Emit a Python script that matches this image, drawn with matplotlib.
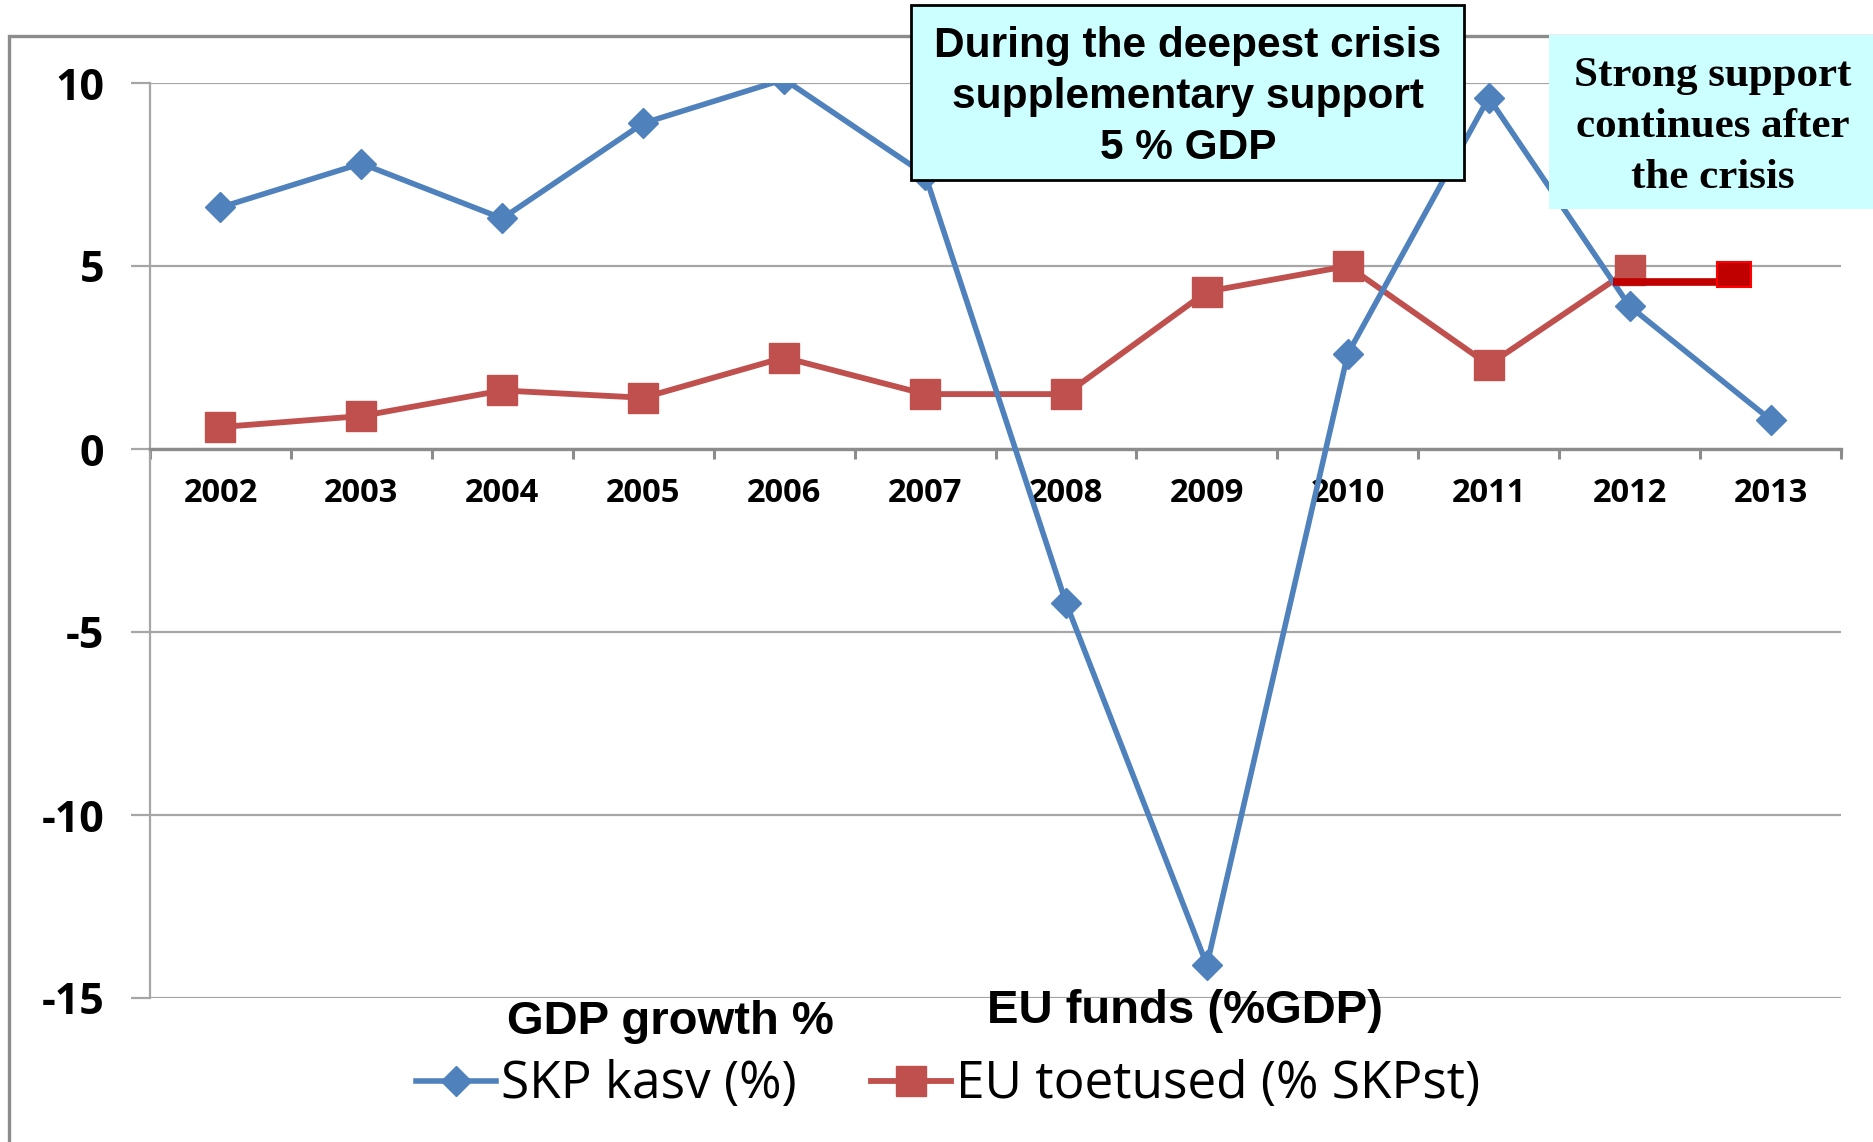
import matplotlib
matplotlib.use("Agg")
import matplotlib.pyplot as plt
from matplotlib.patches import Rectangle
from matplotlib.ticker import FixedLocator

years = list(range(2002, 2014))
gdp_growth = [6.6, 7.8, 6.3, 8.9, 10.1, 7.5, -4.2, -14.1, 2.6, 9.6, 3.9, 0.8]
eu_years = list(range(2002, 2013))
eu_funds = [0.6, 0.9, 1.6, 1.4, 2.5, 1.5, 1.5, 4.3, 5.0, 2.3, 4.9]
y_ticks = [-15, -10, -5, 0, 5, 10]

# support level continuing past 2012
after_x = [2011.88, 2012.62]
after_level = 4.55
after_box = (2012.62, 4.43, 0.24, 0.68)

BLUE = "#4F81BD"
RED = "#C0504D"
GRID = "#A6A6A6"
W, H = 1874, 1142

fig = plt.figure(figsize=(W / 100, H / 100), dpi=100)
ax = fig.add_axes([150 / W, 1 - 998 / H, (1841 - 150) / W, (998 - 83) / H])

red_line, = ax.plot(eu_years, eu_funds, color=RED, lw=4.2, marker="s", ms=21,
                    mec=RED, mew=1, zorder=4, label="EU toetused (% SKPst)")
blue_line, = ax.plot(years, gdp_growth, color=BLUE, lw=4.0, marker="D", ms=15,
                     mec=BLUE, mew=1, zorder=5, label="SKP kasv (%)")

ax.plot(after_x, [after_level] * 2, color="#C00000", lw=5.5,
        solid_capstyle="butt", zorder=6)
ax.add_patch(Rectangle(after_box[:2], after_box[2], after_box[3],
                       fc="#C00000", ec="#FF0000", lw=1.5, zorder=7))

ax.set_xlim(2001.5, 2013.5)
ax.set_ylim(-15, 10)

# axes styling
for s in ["top", "right"]:
    ax.spines[s].set_visible(False)
ax.spines["bottom"].set_position(("data", 0))
ax.spines["bottom"].set_color("#8C8C8C")
ax.spines["bottom"].set_linewidth(2.4)
ax.spines["left"].set_color(GRID)
ax.spines["left"].set_linewidth(1.6)

ax.set_yticks(y_ticks)
ax.set_yticklabels([str(v) for v in y_ticks], fontfamily="Open Sans",
                   fontweight="bold", fontsize=31)
ax.tick_params(axis="y", direction="out", length=14, width=1.6, color=GRID,
               pad=19)
ax.yaxis.grid(True, color=GRID, lw=1.6)
ax.set_axisbelow(True)

ax.set_xticks(years)
ax.set_xticklabels([str(y) for y in years], fontfamily="Open Sans",
                   fontweight="bold", fontsize=23.5)
ax.xaxis.set_minor_locator(FixedLocator([y - 0.5 for y in years] + [2013.5]))
ax.tick_params(axis="x", which="major", length=0, pad=20)
ax.tick_params(axis="x", which="minor", direction="out", length=7,
               width=2.2, color="#8C8C8C")

# outer chart frame
fig.add_artist(Rectangle((9 / W, -0.1), 1.2, 1.1 - 36 / H,
                         transform=fig.transFigure, fill=False,
                         ec="#8C8C8C", lw=2.4, zorder=-1))

# callout boxes
fig.add_artist(Rectangle((911 / W, 1 - 180 / H), (1464 - 911) / W, 175 / H,
                         transform=fig.transFigure, fc="#CCFFFF", ec="black",
                         lw=2, zorder=10))
fig.text(1188 / W, 1 - 97 / H,
         "During the deepest crisis\nsupplementary support\n5 % GDP",
         ha="center", va="center", fontsize=30.5, fontweight="bold",
         fontfamily="Liberation Sans", linespacing=1.34, zorder=11)

fig.add_artist(Rectangle((1549 / W, 1 - 209 / H), 0.2, 174 / H,
                         transform=fig.transFigure, fc="#CCFFFF", ec="none",
                         zorder=10))
fig.text(1713 / W, 1 - 127 / H,
         "Strong support\ncontinues after\nthe crisis",
         ha="center", va="center", fontsize=31, fontweight="bold",
         fontfamily="Liberation Serif", linespacing=1.45, zorder=11)

# legend and its English captions
fig.text(670 / W, 1 - 1022 / H, "GDP growth %", ha="center", va="center",
         fontsize=34, fontweight="bold", fontfamily="Liberation Sans", zorder=3)
fig.text(1185 / W, 1 - 1011 / H, "EU funds (%GDP)", ha="center", va="center",
         fontsize=34, fontweight="bold", fontfamily="Liberation Sans", zorder=3)

fig.legend(handles=[blue_line, red_line], loc="center",
           bbox_to_anchor=(948 / W, 1 - 1085 / H), ncol=2, frameon=False,
           prop={"family": "Open Sans", "size": 37}, handlelength=1.55,
           handletextpad=0.1, columnspacing=1.45, borderpad=0)

fig.savefig("out.png", dpi=100)
